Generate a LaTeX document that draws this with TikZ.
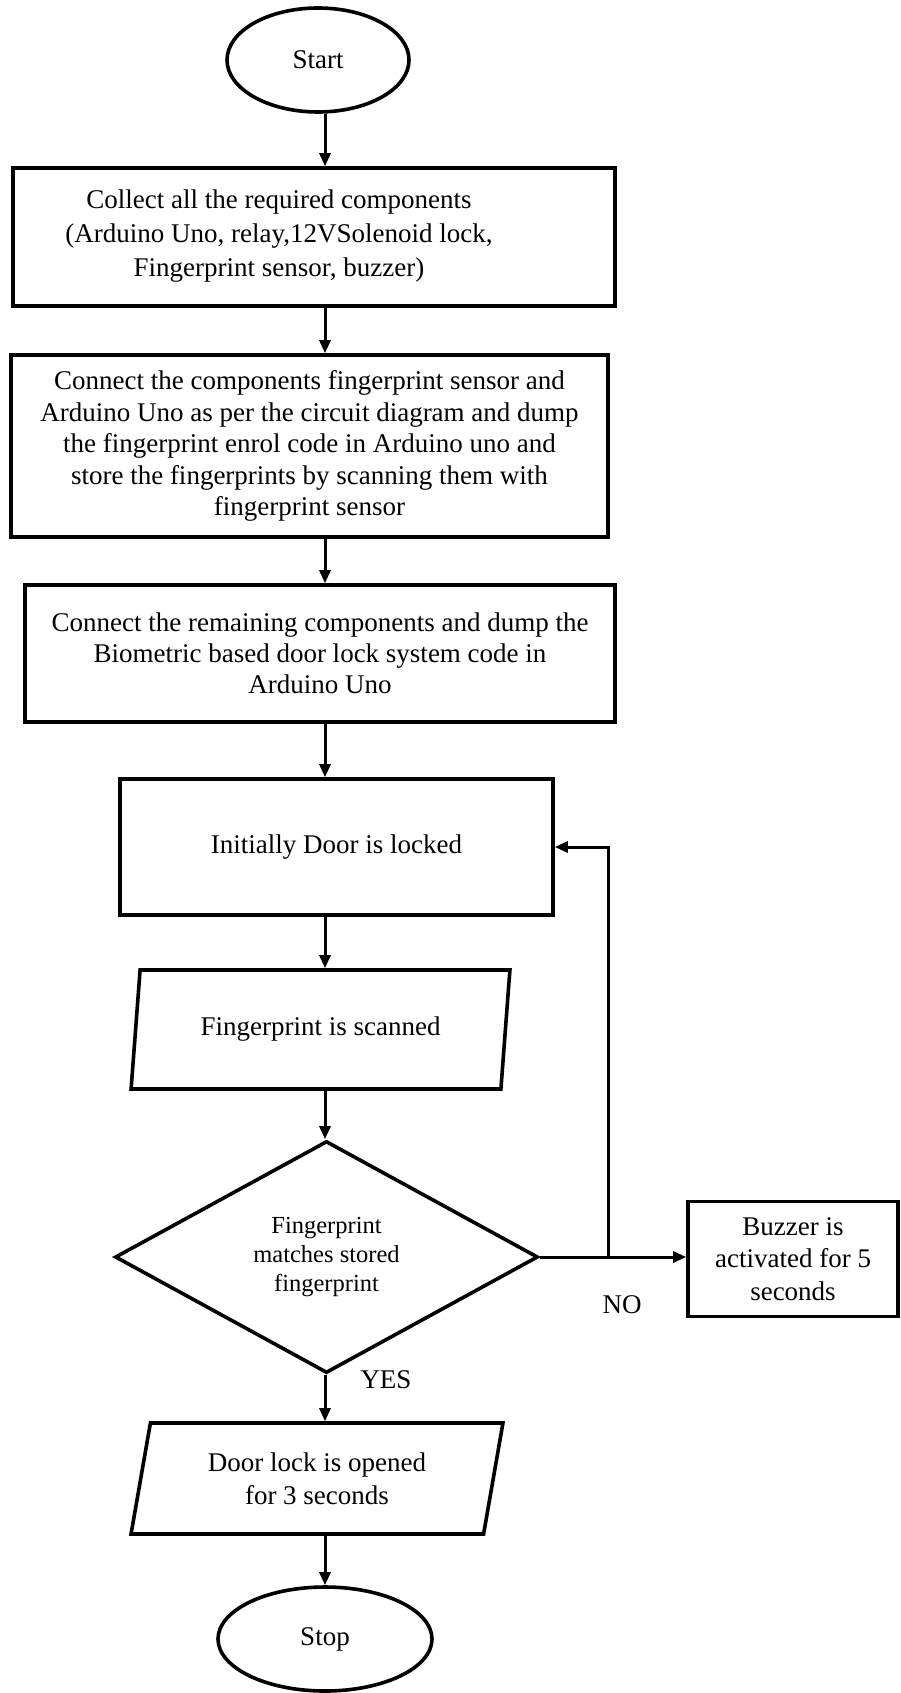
\documentclass[tikz,border=0pt]{standalone}
\usepackage{fontspec}
\setmainfont{Liberation Serif}
\usetikzlibrary{arrows.meta,shapes.geometric}
\begin{document}
\begin{tikzpicture}[x=1pt,y=-1pt,
  every node/.style={font=\fontsize{27}{33}\selectfont, inner sep=0pt},
  boxnode/.style={draw, line width=3.6pt, rectangle, align=center},
  term/.style={draw, line width=3.6pt, ellipse},
  para/.style={draw, line width=3.6pt, trapezium, trapezium left angle=76.3, trapezium right angle=103.7, trapezium stretches=true, align=center},
  decide/.style={draw, line width=3.6pt, diamond, align=center},
  conn/.style={line width=3pt, -{Triangle[length=13pt,width=11pt]}},
  lbl/.style={font=\fontsize{27}{33}\selectfont}
]
\useasboundingbox (0,0) rectangle (901,1693);
\coordinate (trunk) at (325,0);
\coordinate (loopx) at (608,0);

\node[term, minimum width=182, minimum height=104] (start) at (318,60) {Start};

\node[boxnode, minimum width=602, minimum height=138] (box1) at (314,237) {};
\node[align=center, font=\fontsize{27}{34}\selectfont] (t1) at (279,236) {Collect all the required components\\(Arduino Uno, relay,12VSolenoid lock,\\Fingerprint sensor, buzzer)};

\node[boxnode, minimum width=597, minimum height=182, font=\fontsize{27}{31.5}\selectfont] (box2) at (309.5,446) {Connect the components fingerprint sensor and\\Arduino Uno as per the circuit diagram and dump\\the fingerprint enrol code in Arduino uno and\\store the fingerprints by scanning them with\\fingerprint sensor};

\node[boxnode, minimum width=590, minimum height=137, font=\fontsize{27}{31}\selectfont] (box3) at (320,653.5) {Connect the remaining components and dump the\\Biometric based door lock system code in\\Arduino Uno};

\node[boxnode, minimum width=433, minimum height=136] (box4) at (336.5,847) {Initially Door is locked};

\node[para, minimum width=379, minimum height=119] (scan) at (320.5,1029.5) {Fingerprint is scanned};

\node[decide, minimum width=423, minimum height=232, font=\fontsize{24.5}{29}\selectfont] (match) at (326.5,1257) {Fingerprint\\matches stored\\fingerprint};

\node[boxnode, minimum width=210, minimum height=115, font=\fontsize{27}{32.5}\selectfont] (buzz) at (793,1259) {Buzzer is\\activated for 5\\seconds};

\node[para, minimum width=372, minimum height=111] (open) at (317,1478.5) {Door lock is opened\\for 3 seconds};

\node[term, minimum width=214, minimum height=104] (stop) at (325,1639) {Stop};

\node[lbl] (no) at (622,1305) {NO};
\node[lbl] (yes) at (386,1380) {YES};

\draw[conn] (start.south -| trunk) -- (box1.north -| trunk);
\draw[conn] (box1.south -| trunk) -- (box2.north -| trunk);
\draw[conn] (box2.south -| trunk) -- (box3.north -| trunk);
\draw[conn] (box3.south -| trunk) -- (box4.north -| trunk);
\draw[conn] (box4.south -| trunk) -- (scan.north -| trunk);
\draw[conn] (scan.south -| trunk) -- (match.north -| trunk);
\draw[conn] (match.south -| trunk) -- (open.north -| trunk);
\draw[conn] (open.south -| trunk) -- (stop.north -| trunk);
\draw[conn] (match.east) -- (match.east -| buzz.west);
\draw[conn] (match.east -| loopx) -- (box4.east -| loopx) -- (box4.east);
\end{tikzpicture}
\end{document}
